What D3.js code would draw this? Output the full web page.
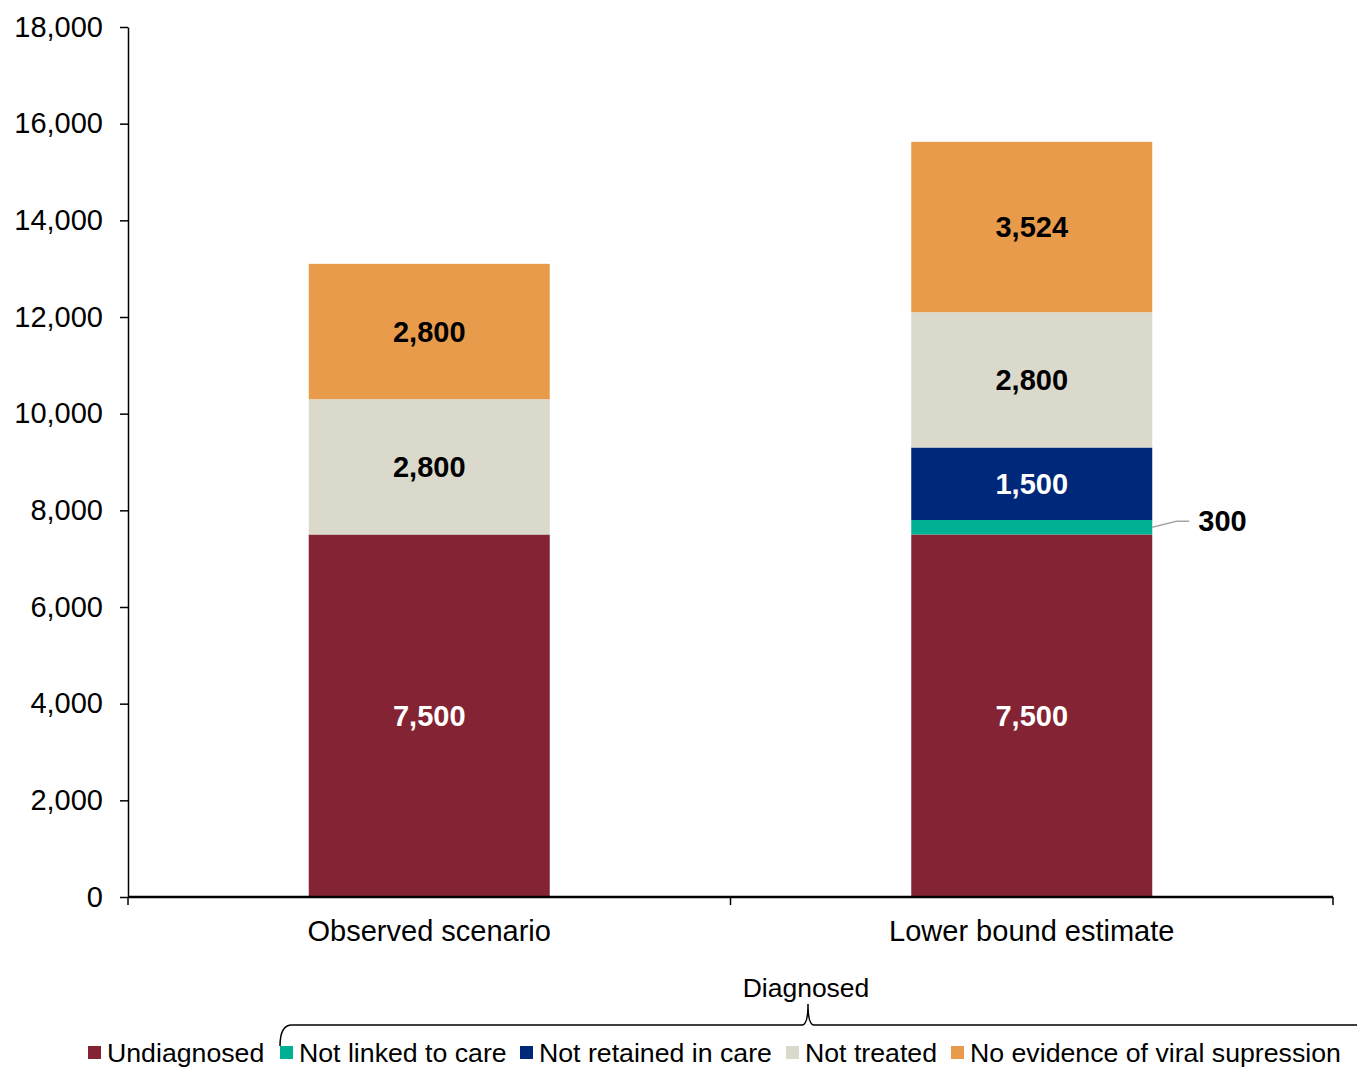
<!DOCTYPE html>
<html><head><meta charset="utf-8">
<script src="https://cdn.jsdelivr.net/npm/d3@7"></script>
<style>body{margin:0;background:#fff}svg{display:block;font-family:"Liberation Sans",Arial,sans-serif}</style>
</head><body><svg id="c" width="1357" height="1068"></svg>
<script>
const categories = ["Observed scenario", "Lower bound estimate"];
const seriesNames = ["Undiagnosed", "Not linked to care", "Not retained in care", "Not treated", "No evidence of viral supression"];
const undiagnosed = [7500, 7500];
const notLinked = [0, 300];
const notRetained = [0, 1500];
const notTreated = [2800, 2800];
const noSuppression = [2800, 3524];
const colors = ["#832334", "#00b092", "#00287a", "#dad9cc", "#e99b4c"];
const labelColors = ["#fff", "#000", "#fff", "#000", "#000"];
const yTicks = [0, 2000, 4000, 6000, 8000, 10000, 12000, 14000, 16000, 18000];

const series = [undiagnosed, notLinked, notRetained, notTreated, noSuppression];
const svg = d3.select("#c");
const x = d3.scaleBand().domain(categories).range([128, 1333]).padding(0);
const y = d3.scaleLinear().domain([0, 18000]).range([897, 27]);
const barW = x.bandwidth() * 0.4;

// bars
categories.forEach((c, i) => {
  let base = 0;
  series.forEach((s, k) => {
    const v = s[i];
    if (v > 0) {
      svg.append("rect")
        .attr("x", x(c) + x.bandwidth()/2 - barW/2)
        .attr("width", barW)
        .attr("y", y(base + v))
        .attr("height", y(base) - y(base + v))
        .attr("fill", colors[k]);
      if (v >= 1000) {
        svg.append("text")
          .attr("x", x(c) + x.bandwidth()/2)
          .attr("y", y(base + v/2))
          .attr("dy", "0.35em")
          .attr("text-anchor", "middle")
          .attr("font-weight", "bold")
          .attr("font-size", 29)
          .attr("fill", labelColors[k])
          .text(d3.format(",")(v));
      } else {
        const xr = x(c) + x.bandwidth()/2 + barW/2;
        const ym = y(base + v/2);
        svg.append("path")
          .attr("d", `M${xr},${ym} L${xr+24},${ym-6} L${xr+37},${ym-6}`)
          .attr("fill", "none").attr("stroke", "#a6a6a6").attr("stroke-width", 1.5);
        svg.append("text")
          .attr("x", xr + 46).attr("y", ym - 6).attr("dy", "0.35em")
          .attr("font-weight", "bold").attr("font-size", 29)
          .text(d3.format(",")(v));
      }
    }
    base += v;
  });
});

// y axis
const ya = svg.append("g").attr("transform", "translate(128,0)")
  .call(d3.axisLeft(y).tickValues(yTicks).tickFormat(d3.format(",")).tickSize(8).tickSizeOuter(0).tickPadding(17));
ya.select(".domain").attr("stroke", "#000").attr("stroke-width", 1.5);
ya.selectAll(".tick line").attr("stroke", "#000").attr("stroke-width", 1.5);
ya.selectAll(".tick text").attr("font-size", 29).attr("font-family", "Liberation Sans, Arial, sans-serif").attr("fill", "#000");

// x axis
const xa = svg.append("g").attr("transform", "translate(0,897)");
xa.append("line").attr("x1", 128).attr("x2", 1333).attr("stroke", "#000").attr("stroke-width", 2.5);
const bounds = [x.range()[0], ...categories.slice(1).map(c => x(c)), x.range()[1]];
bounds.forEach(b => xa.append("line").attr("x1", b).attr("x2", b).attr("y1", 0).attr("y2", 8).attr("stroke", "#000").attr("stroke-width", 1.5));
categories.forEach(c => xa.append("text")
  .attr("x", x(c) + x.bandwidth()/2).attr("y", 44).attr("text-anchor", "middle")
  .attr("font-size", 29).text(c));

// brace + Diagnosed
svg.append("path")
  .attr("d", "M280,1046 Q280,1025 292,1025 L802,1025 Q808,1025 808,1004 Q808,1025 814,1025 L1357,1025")
  .attr("fill", "none").attr("stroke", "#000").attr("stroke-width", 1.5);
svg.append("text").attr("x", 806).attr("y", 997).attr("text-anchor", "middle").attr("font-size", 26.5).text("Diagnosed");

// legend
const legX = [88, 280, 520, 786, 951];
seriesNames.forEach((n, k) => {
  svg.append("rect").attr("x", legX[k]).attr("y", 1046).attr("width", 13).attr("height", 13).attr("fill", colors[k]);
  svg.append("text").attr("x", legX[k] + 19).attr("y", 1062).attr("font-size", 26.7).text(n);
});
</script></body></html>
